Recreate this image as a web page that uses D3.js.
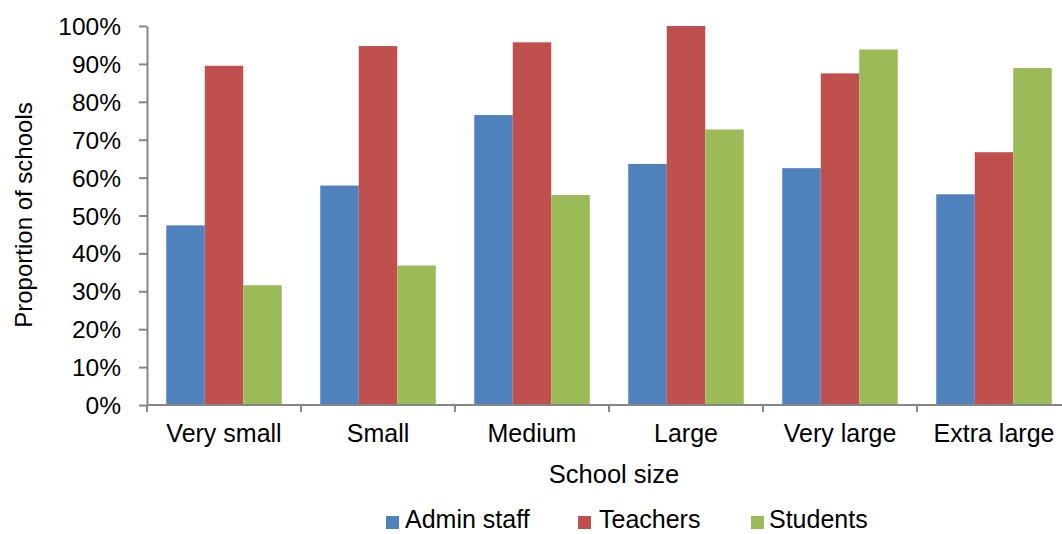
<!DOCTYPE html>
<html><head><meta charset="utf-8">
<script src="https://cdn.jsdelivr.net/npm/d3@7"></script>
<style>body{margin:0;background:#fff}svg{display:block;font-family:"Liberation Sans",Arial,sans-serif}</style>
</head><body><svg id="c" width="1062" height="534"></svg>
<script>
const categories = ["Very small","Small","Medium","Large","Very large","Extra large"];
const seriesNames = ["Admin staff","Teachers","Students"];
const adminStaff = [0.474,0.579,0.765,0.636,0.625,0.556];
const teachers   = [0.895,0.947,0.957,1.000,0.875,0.667];
const students   = [0.316,0.368,0.554,0.727,0.938,0.889];
const yTicks = [0,0.1,0.2,0.3,0.4,0.5,0.6,0.7,0.8,0.9,1.0];
const colors = ["#4F81BD","#C0504D","#9BBB59"];
const series = [adminStaff, teachers, students];

(function(){
const svg = d3.select("#c");
const mLeft = 147, mRight = 1071, mTop = 26, mBottom = 405;
const axisColor = "#868686";
const fs = 24.5;

const x = d3.scaleBand().domain(categories).range([mLeft,mRight]).paddingInner(0.25).paddingOuter(0.125);
const x1 = d3.scaleBand().domain(seriesNames).range([0,x.bandwidth()]);
const y = d3.scaleLinear().domain([0,1]).range([mBottom,mTop]);

categories.forEach((c,i)=>{
  const g = svg.append("g").attr("transform",`translate(${x(c)},0)`);
  g.selectAll("rect").data(seriesNames.map((s,j)=>({s,v:series[j][i],j})))
    .join("rect")
    .attr("x",d=>x1(d.s)).attr("width",x1.bandwidth())
    .attr("y",d=>y(d.v)).attr("height",d=>y(0)-y(d.v))
    .attr("fill",d=>colors[d.j]);
});

const yAxis = d3.axisLeft(y).tickValues(yTicks).tickFormat(d3.format(".0%")).tickSize(8).tickSizeOuter(0);
const ya = svg.append("g").attr("transform",`translate(${mLeft},0)`).call(yAxis);
ya.select(".domain").attr("stroke",axisColor).attr("stroke-width",2);
ya.selectAll(".tick line").attr("stroke",axisColor).attr("stroke-width",2);
ya.selectAll(".tick text").attr("font-size",fs).attr("fill","#000").attr("x",-26).attr("dy","0.35em").attr("font-family","Liberation Sans, Arial, sans-serif");

const xStep = x.step();
const boundaries = d3.range(categories.length+1).map(i=>mLeft+i*xStep);
const xa = svg.append("g");
xa.append("line").attr("x1",mLeft).attr("x2",mRight).attr("y1",mBottom).attr("y2",mBottom).attr("stroke",axisColor).attr("stroke-width",2);
xa.selectAll("line.t").data(boundaries).join("line").attr("class","t")
  .attr("x1",d=>d).attr("x2",d=>d).attr("y1",mBottom).attr("y2",mBottom+7).attr("stroke",axisColor).attr("stroke-width",2);
xa.selectAll("text").data(categories).join("text")
  .attr("x",d=>x(d)+x.bandwidth()/2).attr("y",442)
  .attr("text-anchor","middle").attr("font-size",25).text(d=>d);

svg.append("text").attr("x",614).attr("y",483).attr("text-anchor","middle").attr("font-size",25.5).text("School size");
svg.append("text").attr("transform","translate(32,215) rotate(-90)").attr("text-anchor","middle").attr("font-size",24).text("Proportion of schools");

const legSq = [386,578,751];
const legTx = [405,599,769];
const lg = svg.append("g");
seriesNames.forEach((s,i)=>{
  lg.append("rect").attr("x",legSq[i]).attr("y",516).attr("width",13).attr("height",13).attr("fill",colors[i]);
  lg.append("text").attr("x",legTx[i]).attr("y",528).attr("font-size",25).text(s);
});
})();
</script></body></html>
